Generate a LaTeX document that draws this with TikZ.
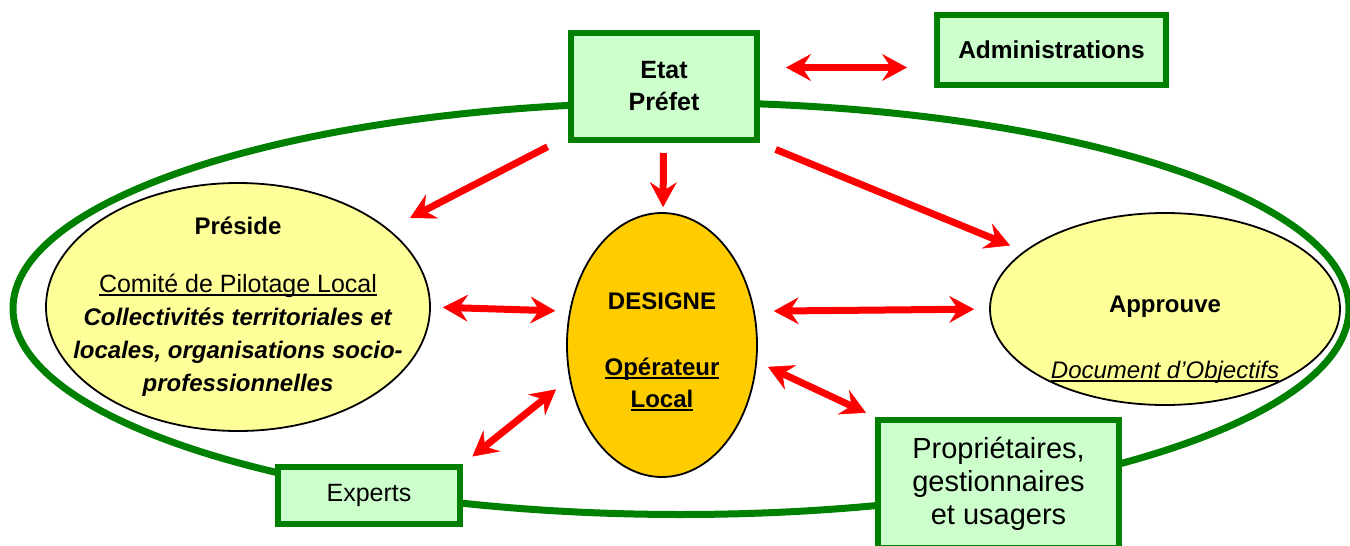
\documentclass[tikz,border=0pt]{standalone}
\usepackage{fontspec}
\setmainfont{Liberation Sans}
\usetikzlibrary{arrows.meta, shapes.geometric, positioning}
\definecolor{vert}{RGB}{0,128,0}
\definecolor{vertclair}{RGB}{204,255,204}
\definecolor{jaune}{RGB}{255,255,153}
\definecolor{ocre}{RGB}{255,204,0}
\newsavebox\soulbox
\newcommand\souligne[1]{\sbox\soulbox{#1}\rlap{\rule[-3pt]{\wd\soulbox}{1.8pt}}\usebox\soulbox}

\begin{document}
\begin{tikzpicture}[x=1pt, y=-1pt, >={Stealth[length=25pt,width=27pt,inset=9pt,line width=0.5pt]},
    cadre/.style={draw=vert, line width=6pt, fill=vertclair, rectangle, inner sep=0pt, align=center},
    oval/.style={draw=black, line width=1.8pt, ellipse, inner sep=0pt},
    txt/.style={align=center, font=\fontsize{24}{33}\selectfont},
    fl/.style={red, line width=7pt}]
    \useasboundingbox (0,0) rectangle (1350,546);

    % le grand contour
    \draw[vert, line width=7pt] (681,308.5) ellipse [x radius=668, y radius=206];

    \node[cadre, minimum width=186pt, minimum height=107pt, font=\fontsize{25}{32}\selectfont\bfseries] (etat) at (664,86.5) {Etat\\Préfet};
    \node[cadre, minimum width=229pt, minimum height=70pt, font=\fontsize{24.5}{32}\selectfont\bfseries] (admin) at (1051.5,50) {Administrations};
    \node[cadre, minimum width=182pt, minimum height=57pt, font=\fontsize{25}{32}\selectfont] (experts) at (369,495.5) {Experts};
    \node[cadre, minimum width=241pt, minimum height=128pt, font=\fontsize{29}{33}\selectfont] (proprio) at (998.5,484) {Propriétaires,\\gestionnaires\\et usagers};

    \node[oval, fill=jaune, minimum width=384pt, minimum height=248pt] (preside) at (238,307) {};
    \node[oval, fill=ocre, minimum width=190pt, minimum height=264pt] (designe) at (662,345) {};
    \node[oval, fill=jaune, minimum width=350pt, minimum height=192pt] (approuve) at (1165,309) {};

    \node[txt] (preside-txt) at (238,307) {\textbf{Préside}\\[25pt]
        {\fontsize{25}{33}\selectfont\souligne{Comité de Pilotage Local}}\\
        \textbf{\textit{Collectivités territoriales et}}\\
        \textbf{\textit{locales, organisations socio-}}\\
        \textbf{\textit{professionnelles}}};
    \node[txt, font=\fontsize{24}{32}\selectfont\bfseries] (designe-txt) at (662,352) {DESIGNE\\[34pt]\souligne{Opérateur}\\\souligne{Local}};
    \node[txt] (approuve-txt) at (1165,340) {\textbf{Approuve}\\[33pt]\souligne{\textit{Document d’Objectifs}}};

    % fleches
    \draw[fl, ->, shorten <=23pt, shorten >=24pt] (etat) -- (preside);
    \draw[fl, ->, shorten <=10pt, shorten >=5pt] (etat) -- (designe);
    \draw[fl, ->, shorten <=17pt, shorten >=15pt] (etat.south east) -- (approuve);
    \draw[fl, <->, shorten <=26pt, shorten >=27pt] ([yshift=19pt]etat.east) -- ([yshift=19pt]etat.east -| admin.west);
    \draw[fl, <->, shorten <=12pt, shorten >=14pt] (preside.east) -- (designe.160);
    \draw[fl, <->, shorten <=19pt, shorten >=15pt] (designe.20) -- (approuve.west);
    \draw[fl, <->, shorten <=17pt, shorten >=12pt] (designe.200) -- (experts.north east);
    \draw[fl, <->, shorten <=12pt, shorten >=10pt] (designe.350) -- (proprio.north west);
\end{tikzpicture}
\end{document}
